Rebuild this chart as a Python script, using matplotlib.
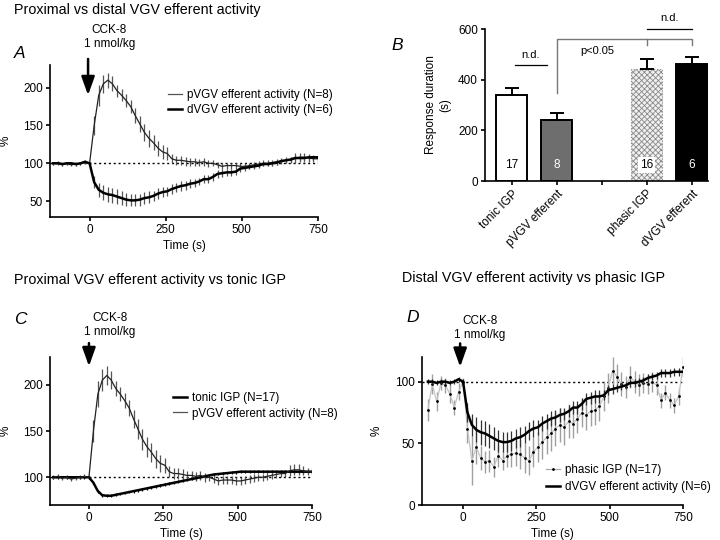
import numpy as np
import matplotlib
matplotlib.use("Agg")
import matplotlib.pyplot as plt

plt.rcParams['font.family'] = ['Liberation Sans', 'DejaVu Sans']
plt.rcParams['font.size'] = 8
plt.rcParams['axes.linewidth'] = 1.2
plt.rcParams['hatch.linewidth'] = 0.6

# time bins (s)
t = np.arange(-120, 751, 15)

pvgv = [100, 101, 99, 100, 98, 99, 100, 101, 100,
        150, 190, 205, 210, 205, 196, 190, 183, 175, 163,
        152, 141, 133, 127, 120, 115, 113, 106, 104, 104,
        103, 102, 102, 101, 102, 100, 100, 98, 96, 97,
        97, 97, 96, 96, 97, 98, 99, 100, 100, 101,
        102, 103, 104, 104, 107, 108, 108, 107, 106, 106]
pvgv_err = [2, 2, 2, 2, 2, 2, 2, 2, 2,
            12, 14, 12, 10, 10, 8, 8, 8, 9, 10,
            11, 11, 11, 10, 10, 9, 8, 6, 6, 6,
            6, 5, 5, 5, 5, 5, 4, 4, 4, 4,
            4, 4, 4, 4, 4, 4, 4, 4, 4, 4,
            4, 4, 4, 4, 6, 6, 6, 5, 4, 4]

dvgv = [100, 100, 99, 100, 100, 99, 100, 102, 100,
        75, 65, 61, 59, 58, 56, 54, 52, 51, 51,
        52, 54, 55, 57, 60, 62, 63, 66, 68, 70,
        71, 73, 74, 76, 79, 79, 82, 86, 87, 88,
        88, 89, 93, 94, 95, 96, 97, 99, 99, 100,
        101, 103, 104, 105, 107, 107, 107, 108, 108, 108]
dvgv_err = [2, 2, 2, 2, 2, 2, 2, 2, 2,
            8, 9, 10, 10, 10, 10, 9, 9, 8, 8,
            8, 8, 8, 7, 7, 7, 6, 6, 6, 6,
            6, 6, 5, 5, 5, 5, 5, 5, 5, 5,
            5, 4, 4, 4, 3, 3, 3, 3, 3, 3,
            3, 3, 3, 3, 3, 3, 3, 3, 3, 3]

tonic = [100, 100, 100, 100, 100, 100, 100, 100, 100,
         94, 85, 80.5, 80, 80, 81, 82, 83, 84, 85,
         86, 87, 88, 89, 90, 91, 92, 93, 94, 95,
         96, 97, 98, 99, 100, 101, 102, 103, 103.5, 104,
         104.5, 105, 105.5, 106, 106, 106, 106, 106, 106, 106,
         106, 106, 106, 106, 106, 106, 106, 106, 106, 106]
tonic_err = [1.5] * 59

phasic = [77, 98, 84, 99, 97, 90, 79, 92, 100,
          62, 36, 47, 38, 35, 36, 31, 40, 36, 40,
          41, 42, 41, 38, 36, 43, 47, 51, 55, 58,
          62, 65, 63, 68, 66, 70, 75, 73, 76, 77,
          80, 88, 95, 109, 104, 98, 96, 104, 100, 97,
          99, 98, 100, 97, 85, 91, 85, 81, 88, 112]
phasic_err = [9, 8, 8, 6, 6, 7, 6, 7, 3,
              12, 20, 14, 10, 9, 9, 8, 9, 8, 9,
              10, 10, 12, 12, 12, 12, 12, 14, 14, 14,
              14, 14, 14, 14, 12, 12, 12, 12, 12, 12,
              12, 12, 12, 11, 10, 10, 9, 9, 9, 9,
              8, 8, 8, 8, 6, 6, 6, 6, 7, 8]

# panel B
bar_pos = [1, 2, 4, 5]
bar_labels = ['tonic IGP', 'pVGV efferent', 'phasic IGP', 'dVGV efferent']
bar_vals = [340, 241, 442, 463]
bar_errs = [27, 27, 41, 25]
bar_n = ['17', '8', '16', '6']

fig = plt.figure(figsize=(7.2, 5.4), dpi=100)
TK = 8.5   # tick label size
LG = 8.4   # legend size


def style(ax):
    ax.spines['top'].set_visible(False)
    ax.spines['right'].set_visible(False)
    ax.tick_params(direction='out', length=3, width=1.2, labelsize=TK, pad=2)


def trace(ax, y, err, thick, color='black', ecolor='#555555'):
    lw = 1.8 if thick else 0.9
    ax.errorbar(t, y, yerr=err, color=color, lw=lw, ecolor=ecolor, elinewidth=0.9, capsize=0)


def cck(ax, x_arrow, y_head, y_tail, x_text, y_text):
    ax.annotate('', xy=(x_arrow, y_head), xytext=(x_arrow, y_tail),
                arrowprops=dict(arrowstyle='-|>,head_length=0.7,head_width=0.25', color='black',
                                lw=1.8, mutation_scale=16, shrinkA=0, shrinkB=0),
                annotation_clip=False)
    ax.text(x_text, y_text, 'CCK-8\n1 nmol/kg', ha='center', va='bottom', fontsize=8.5,
            linespacing=1.25)


def time_axis(ax, xl, ylab_x):
    ax.set_xlim(xl, 750)
    ax.set_xticks([0, 250, 500, 750])
    ax.set_xlabel('Time (s)', fontsize=8.5, labelpad=3)
    ax.set_ylabel('%', fontsize=8.5)
    ax.yaxis.set_label_coords(ylab_x, 0.5)
    ax.axhline(100, color='black', lw=1, ls=(0, (1.5, 2)), zorder=0)


# ---- A
axA = fig.add_axes([50/720, 1-217/540, 268/720, 152/540])
style(axA)
pA, = axA.plot([], [], color='#555555', lw=0.9, label='pVGV efferent activity (N=8)')
dA, = axA.plot([], [], color='black', lw=1.8, label='dVGV efferent activity (N=6)')
trace(axA, pvgv, pvgv_err, False, color='#222222')
trace(axA, dvgv, dvgv_err, True)
time_axis(axA, -130, -0.145)
axA.set_ylim(29, 230)
axA.set_yticks([50, 100, 150, 200])
cck(axA, -5, 190, 238, 65, 250)
axA.legend(handles=[pA, dA], loc='upper left', bbox_to_anchor=(168/720, 1-89/540),
           bbox_transform=fig.transFigure, frameon=False, fontsize=LG, handlelength=1.2,
           handletextpad=0.4, borderpad=0, borderaxespad=0, labelspacing=0.3)
fig.text(14/720, 1-10/540, 'Proximal vs distal VGV efferent activity', fontsize=10.3, va='center')
fig.text(14/720, 1-53/540, 'A', fontsize=12.5, style='italic', va='center')

# ---- B
axB = fig.add_axes([485/720, 1-181/540, 223/720, 152/540])
style(axB)
faces = ['white', '#6e6e6e', '#e4e4e4', 'black']
for i in range(4):
    if i == 2:
        axB.bar(bar_pos[i], bar_vals[i], width=0.7, color='#f0f0f0', edgecolor='#8a8a8a',
                hatch='xxxxxx', lw=0.8, ls=':', zorder=2)
    else:
        axB.bar(bar_pos[i], bar_vals[i], width=0.7, color=faces[i], edgecolor='black',
                lw=1.4, zorder=2)
axB.errorbar(bar_pos, bar_vals, yerr=[[0]*4, bar_errs], fmt='none', ecolor='black',
             elinewidth=1.4, capsize=5.2, capthick=1.4, zorder=3)
for i in range(4):
    c = 'white' if i in (1, 3) else 'black'
    bb = dict(facecolor='white', edgecolor='none', pad=1.5) if i == 2 else None
    axB.text(bar_pos[i], 63, bar_n[i], ha='center', va='center', color=c, fontsize=8.5,
             bbox=bb, zorder=4)
axB.set_xlim(0.41, 5.36)
axB.set_ylim(0, 600)
axB.set_yticks([0, 200, 400, 600])
axB.set_xticks([1, 2, 3, 4, 5])
axB.set_xticklabels(['tonic IGP', 'pVGV efferent', '', 'phasic IGP', 'dVGV efferent'],
                    rotation=45, ha='right', rotation_mode='anchor', fontsize=TK)
axB.set_ylabel('Response duration\n(s)', fontsize=8.5, labelpad=5)
gc = '#777777'
axB.plot([1.07, 1.78], [456, 456], color='black', lw=0.9)
axB.text(1.43, 478, 'n.d.', ha='center', va='bottom', fontsize=8)
axB.plot([2, 2, 5, 5], [347, 560, 560, 537], color=gc, lw=1, clip_on=False)
axB.plot([4, 4], [560, 537], color=gc, lw=1)
axB.text(2.9, 512, 'p<0.05', ha='center', va='center', fontsize=8)
axB.plot([4, 5], [600, 600], color='black', lw=0.9, clip_on=False)
axB.text(4.5, 625, 'n.d.', ha='center', va='bottom', fontsize=8)
fig.text(397/720, 1-45/540, 'B', fontsize=12.5, style='italic', va='center', ha='center')

# ---- C
axC = fig.add_axes([50/720, 1-505/540, 262/720, 148/540])
style(axC)
tC, = axC.plot([], [], color='black', lw=1.8, label='tonic IGP (N=17)')
pC, = axC.plot([], [], color='#555555', lw=0.9, label='pVGV efferent activity (N=8)')
trace(axC, tonic, tonic_err, True, ecolor='black')
trace(axC, pvgv, pvgv_err, False, color='#222222')
time_axis(axC, -131, -0.148)
axC.set_ylim(70, 230)
axC.set_yticks([100, 150, 200])
cck(axC, 0, 220, 245, 70, 250)
axC.legend(handles=[tC, pC], loc='upper left', bbox_to_anchor=(173/720, 1-392/540),
           bbox_transform=fig.transFigure, frameon=False, fontsize=LG, handlelength=1.2,
           handletextpad=0.4, borderpad=0, borderaxespad=0, labelspacing=0.3)
fig.text(14/720, 1-280/540, 'Proximal VGV efferent activity vs tonic IGP', fontsize=10.3, va='center')
fig.text(14/720, 1-320/540, 'C', fontsize=12.5, style='italic', va='center')

# ---- D
axD = fig.add_axes([422/720, 1-505/540, 261/720, 148/540])
style(axD)
phD, = axD.plot([], [], color='#aaaaaa', lw=0.9, marker='.', ms=2, mfc='black', mec='black',
                label='phasic IGP (N=17)')
dD, = axD.plot([], [], color='black', lw=1.8, label='dVGV efferent activity (N=6)')
axD.errorbar(t, phasic, yerr=phasic_err, color='#c4c4c4', lw=0.9, ecolor='#a0a0a0',
             elinewidth=1, capsize=0, marker='.', ms=2, mfc='black', mec='black', zorder=2)
axD.errorbar(t, dvgv, yerr=dvgv_err, color='black', lw=1.8, ecolor='#333333',
             elinewidth=0.9, capsize=0, zorder=3)
time_axis(axD, -140, -0.15)
axD.set_ylim(0, 120)
axD.set_yticks([0, 50, 100])
cck(axD, -10, 112, 131, 58, 133)
axD.legend(handles=[phD, dD], loc='upper left', bbox_to_anchor=(546/720, 1-464/540),
           bbox_transform=fig.transFigure, frameon=False, fontsize=LG, handlelength=1.2,
           handletextpad=0.4, borderpad=0, borderaxespad=0, labelspacing=0.45)
fig.text(402/720, 1-278/540, 'Distal VGV efferent activity vs phasic IGP', fontsize=10.3, va='center')
fig.text(413/720, 1-317/540, 'D', fontsize=12.5, style='italic', va='center', ha='center')

fig.savefig('out.png', dpi=100)
